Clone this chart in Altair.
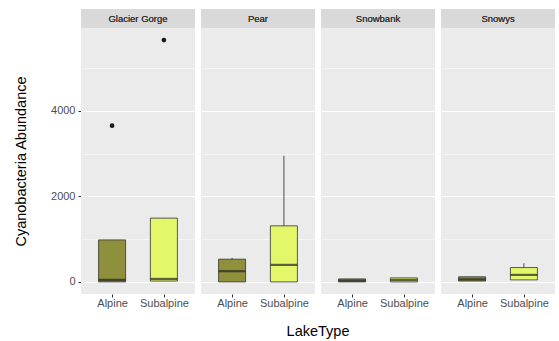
import altair as alt
import pandas as pd

lakes = ["Glacier Gorge", "Glacier Gorge", "Pear", "Pear", "Snowbank", "Snowbank", "Snowys", "Snowys"]
types = ["Alpine", "Subalpine"] * 4
lower = [0, 20, 0, 0, 0, 0, 20, 47]
q1 = [0, 20, 0, 0, 0, 0, 20, 47]
median = [47, 70, 250, 398, 30, 45, 60, 164]
q3 = [982, 1490, 531, 1310, 70, 94, 120, 335]
upper = [982, 1490, 561, 2947, 70, 94, 120, 437]
outlier = [3650, 5650, None, None, None, None, None, None]

df = pd.DataFrame({
    "lake": lakes, "LakeType": types, "lower": lower, "q1": q1,
    "median": median, "q3": q3, "upper": upper, "outlier": outlier,
})

colors = ["#8e903c", "#e4f76a"]
ydom = [-282.5, 5932.5]
PW = 114

x = alt.X("LakeType:N", title="",
          scale=alt.Scale(type="point", padding=0.6),
          axis=alt.Axis(labelColor="#4d4d4d", labelFontSize=11, tickColor="#333333",
                        tickSize=3, labelPadding=0, labelAngle=0, domain=False,
                        gridColor="white", gridWidth=1.1))
yaxis = alt.Axis(values=[0, 1000, 2000, 3000, 4000, 5000],
                 labelExpr="datum.value % 2000 == 0 ? datum.label : ''",
                 tickOpacity={"condition": {"test": "datum.value % 2000 == 0", "value": 1}, "value": 0},
                 gridWidth={"condition": {"test": "datum.value % 2000 == 0", "value": 1.1}, "value": 0.5},
                 gridColor="white", labelColor="#4d4d4d", labelFontSize=11, tickColor="#333333",
                 tickSize=3, labelPadding=3, domain=False, format="d",
                 titleFontSize=14.5, titleFontWeight="normal", titleColor="black", titlePadding=22)
yscale = alt.Scale(domain=ydom, nice=False, zero=False)

base = alt.Chart()

whisk = base.mark_rule(color="#4d4d4d", strokeWidth=1).encode(
    x=x, y=alt.Y("lower:Q", title="Cyanobacteria Abundance", scale=yscale, axis=yaxis), y2="upper:Q")
box = base.mark_bar(size=27, stroke="#333333", strokeWidth=0.8).encode(
    x=x, y=alt.Y("q1:Q", scale=yscale), y2="q3:Q",
    color=alt.Color("LakeType:N", scale=alt.Scale(domain=["Alpine", "Subalpine"], range=colors), legend=None))
med = base.mark_tick(size=27, thickness=2.2, color="#222222").encode(
    x=x, y=alt.Y("median:Q", scale=yscale))
pts = base.mark_circle(size=22, color="#1a1a1a", opacity=1).encode(
    x=x, y=alt.Y("outlier:Q", scale=yscale))
strip = base.mark_rect(color="#d9d9d9").encode(
    x=alt.value(0), x2=alt.value(PW), y=alt.value(-19), y2=alt.value(0))
striptext = base.mark_text(fontSize=9.5, color="#333333", baseline="middle", fontWeight="normal").encode(
    x=alt.value(PW / 2), y=alt.value(-9.5), text="lake:N")

chart = alt.layer(whisk, box, med, pts, strip, striptext, data=df).properties(
    width=PW, height=266
).facet(
    column=alt.Facet("lake:N", header=alt.Header(labels=False, title="LakeType", titleOrient="bottom",
                                                 titleFontSize=14.5, titleFontWeight="normal",
                                                 titleColor="black", titlePadding=7)),
    spacing=6
).configure(font="Liberation Sans").configure_view(
    fill="#ebebeb", stroke=None
).properties(
    padding={"left": 13, "top": 9, "right": 0, "bottom": 2}, background="white"
)

chart.save("out.html", embed_options={"renderer": "svg", "actions": False})
